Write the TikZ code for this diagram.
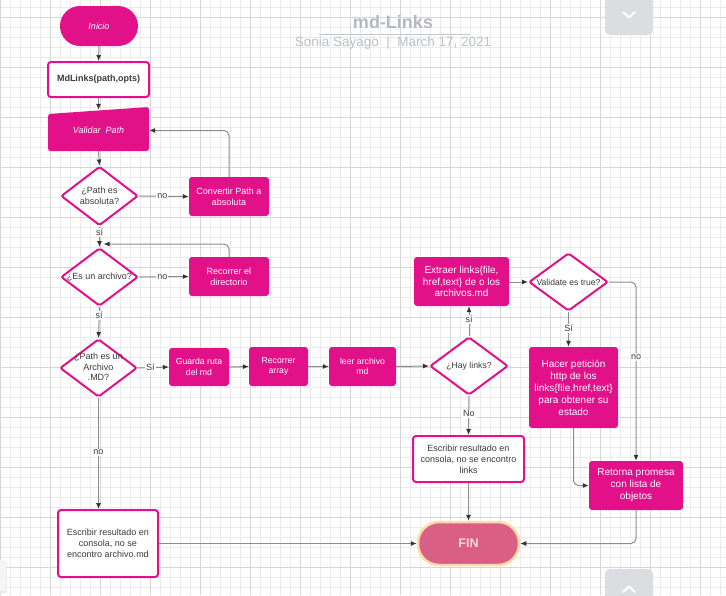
\documentclass[tikz,border=0pt]{standalone}
\usepackage{fontspec}
\setmainfont{Liberation Sans}
\usetikzlibrary{shapes.geometric,arrows.meta}
\definecolor{mag}{HTML}{E2118A}
\definecolor{txt}{HTML}{3A3A3A}
\definecolor{lnc}{HTML}{8C8C8C}
\definecolor{arc}{HTML}{333333}
\definecolor{gmin}{HTML}{EBEBEB}
\definecolor{gmaj}{HTML}{D6D6D6}
\definecolor{finfill}{HTML}{DA5F86}
\definecolor{finbord}{HTML}{FFDCA5}
\definecolor{finfont}{HTML}{F8D6E2}
\definecolor{ttl}{HTML}{B4B8C1}
\definecolor{sub}{HTML}{BDC0C7}
\definecolor{uib}{HTML}{DCDDE0}
\newcommand{\fsz}[2]{\fontsize{#1}{#2}\selectfont}
\begin{document}
\begin{tikzpicture}[x=1pt,y=-1pt,
  gminor/.style={draw=gmin,line width=0.8pt},
  gmajor/.style={draw=gmaj,line width=0.9pt},
  mbox/.style={rectangle,rounded corners=3pt,fill=mag,draw=none,text=white,align=center,inner sep=1pt,font=\fsz{9}{10.8}},
  wbox/.style={rectangle,rounded corners=3pt,fill=white,draw=mag,line width=2pt,text=txt,align=center,inner sep=1pt,font=\fsz{9}{10.8}},
  dia/.style={diamond,draw=mag,line width=2pt,fill=white,inner sep=0pt,rounded corners=2pt},
  dtext/.style={text=txt,align=center,inner sep=0pt,font=\fsz{9}{10.5}},
  conn/.style={draw=lnc,line width=1pt,-{Latex[length=6pt,width=5pt,color=arc]}},
  lbl/.style={fill=white,inner sep=1pt,text=txt,font=\fsz{9}{10}},
]
\useasboundingbox (0,0) rectangle (726,595);
\clip (0,0) rectangle (726,595);
\fill[white] (0,0) rectangle (726,595);
% grid
\foreach \x in {0,10,...,720} \draw[gminor] (\x,0) -- (\x,595);
\foreach \y in {7,17,...,587} \draw[gminor] (0,\y) -- (726,\y);
\foreach \x in {0,50,...,700} \draw[gmajor] (\x,0) -- (\x,595);
\foreach \y in {17,67,...,567} \draw[gmajor] (0,\y) -- (726,\y);

% title
\node[text=ttl,font=\fsz{18}{20}\bfseries,inner sep=0pt] (title) at (393,22) {md-Links};
\draw[draw=ttl!80,line width=1pt] (319,34.5) -- (470,34.5);
\node[text=sub,font=\fsz{13.5}{15},inner sep=0pt] (subtitle) at (393,43) {Sonia Sayago \ |\ \ March 17, 2021};

% UI elements
\fill[uib,rounded corners=5pt] (605,-8) rectangle (653,35);
\draw[white,line width=2pt,line cap=round,line join=round] (623,12) -- (629,17.5) -- (635,12);
\fill[uib,rounded corners=5pt] (605,569) rectangle (653,605);
\draw[white,line width=2pt,line cap=round,line join=round] (623,592) -- (629,586.5) -- (635,592);
\fill[gray!15] (-5,561) rectangle (7,593);
\fill[gray!8] (-5,560) rectangle (6,591);

% nodes
\node[mbox,rounded corners=20pt,minimum width=78pt,minimum height=40pt,font=\fsz{9}{10.8}\itshape] (inicio) at (99,26) {Inicio};
\node[wbox,minimum width=101pt,minimum height=35pt,font=\fsz{9}{10.8}\bfseries] (mdl) at (98.5,79.5) {MdLinks(path,opts)};
\fill[mag,rounded corners=2.5pt] (48,151) -- (149,151) -- (149,107) -- (48,114) -- cycle;
\node[text=white,inner sep=0pt,minimum width=101pt,minimum height=41pt,font=\fsz{9}{10.8}\itshape] (val) at (98.5,130.5) {Validar\ \ Path};

\node[dia,minimum width=77pt,minimum height=59pt] (d1) at (99.5,196) {};
\node[dtext] (d1t) at (d1) {¿Path es\\absoluta?};
\node[mbox,minimum width=80pt,minimum height=39pt] (conv) at (229,196.5) {Convertir Path a\\absoluta};

\node[dia,minimum width=77pt,minimum height=58pt] (d2) at (99.5,277) {};
\node[dtext] (d2t) at (d2) {¿Es un archivo?};
\node[mbox,minimum width=80pt,minimum height=39pt] (rec) at (229,276.5) {Recorrer el\\directorio};

\node[dia,minimum width=77pt,minimum height=58pt] (d3) at (98.5,368) {};
\node[dtext] (d3t) at (98.5,367) {¿Path es un\\Archivo\\.MD?};

\node[mbox,minimum width=60pt,minimum height=38pt,font=\fsz{8.7}{10.6}] (gua) at (199,367) {Guarda ruta\\del md};
\node[mbox,minimum width=59pt,minimum height=39pt,font=\fsz{8.7}{10.6}] (rea) at (278.5,366.5) {Recorrer\\array};
\node[mbox,minimum width=67pt,minimum height=39pt,font=\fsz{8.7}{10.6}] (lee) at (362.5,366.5) {leer archivo\\md};

\node[dia,minimum width=78pt,minimum height=58pt] (d4) at (469,366) {};
\node[dtext,font=\fsz{8.7}{10}] (d4t) at (d4) {¿Hay links?};

\node[mbox,minimum width=95pt,minimum height=49pt,font=\fsz{10}{11.6}] (ext) at (461.5,281.5) {Extraer links\{file,\\href,text\} de o los\\archivos.md};

\node[dia,minimum width=79pt,minimum height=58pt] (d5) at (568.5,282) {};
\node[dtext,font=\fsz{8.6}{10}] (d5t) at (d5) {Validate es true?};

\node[mbox,minimum width=89pt,minimum height=81pt,font=\fsz{10}{12}] (hac) at (573.5,387.5) {Hacer petición\\http de los\\links\{file,href,text\}\\para obtener su\\estado};

\node[mbox,minimum width=94pt,minimum height=49pt,font=\fsz{10}{12}] (ret) at (636,485.5) {Retorna promesa\\con lista de\\objetos};

\node[wbox,minimum width=111pt,minimum height=46pt] (esl) at (468.5,459) {Escribir resultado en\\consola, no se encontro\\links};

\node[wbox,minimum width=100pt,minimum height=67pt] (esa) at (108,543.5) {Escribir resultado en\\consola, no se\\encontro archivo.md};

\node[rectangle,rounded corners=21pt,fill=finfill,draw=finbord,line width=2.5pt,minimum width=101pt,minimum height=43pt,text=finfont,font=\fsz{12.5}{14}\bfseries] (fin) at (468.5,543.5) {FIN};

% connectors
\draw[conn] (inicio.south) -- (mdl.north);
\draw[conn] (mdl.south) -- (val.north);
\draw[conn] (val.south) -- (d1.north);
\draw[conn] (d1.east) -- node[lbl,pos=0.47]{no} (conv.west);
\draw[conn,rounded corners=5pt] (conv.north) |- (val.east);
\draw[conn] (d1.south) -- node[lbl,pos=0.3]{sí} (d2.north);
\draw[conn,rounded corners=5pt] (rec.north) |- ([xshift=4pt,yshift=3pt]d2.north);
\draw[conn] (d2.east) -- node[lbl,pos=0.47]{no} (rec.west);
\draw[conn] (d2.south) -- node[lbl,pos=0.28]{sí} (d3.north);
\draw[conn] (d3.east) -- node[lbl,pos=0.4]{Sí} (gua.west);
\draw[conn] (gua.east) -- (rea.west);
\draw[conn] (rea.east) -- (lee.west);
\draw[conn] (lee.east) -- (d4.west);
\draw[conn] (d4.north) -- node[lbl,pos=0.55]{sí} (d4.north |- ext.south);
\draw[conn] (ext.east |- d5.west) -- (d5.west);
\draw[conn] (d5.south) -- node[lbl,pos=0.47]{Sí} (d5.south |- hac.north);
\draw[conn,rounded corners=5pt] (d5.east) -| node[lbl,pos=0.71]{no} (ret.north);
\draw[conn,rounded corners=5pt] (hac.south) |- (ret.west);
\draw[conn,rounded corners=5pt] (ret.south) |- (fin.east);
\draw[conn] (d4.south) -- node[lbl,pos=0.46]{No} (esl.north);
\draw[conn] (esl.south) -- (fin.north);
\draw[conn] (d3.south) -- node[lbl,pos=0.49]{no} (d3.south |- esa.north);
\draw[conn] (esa.east) -- (fin.west);
\end{tikzpicture}
\end{document}
